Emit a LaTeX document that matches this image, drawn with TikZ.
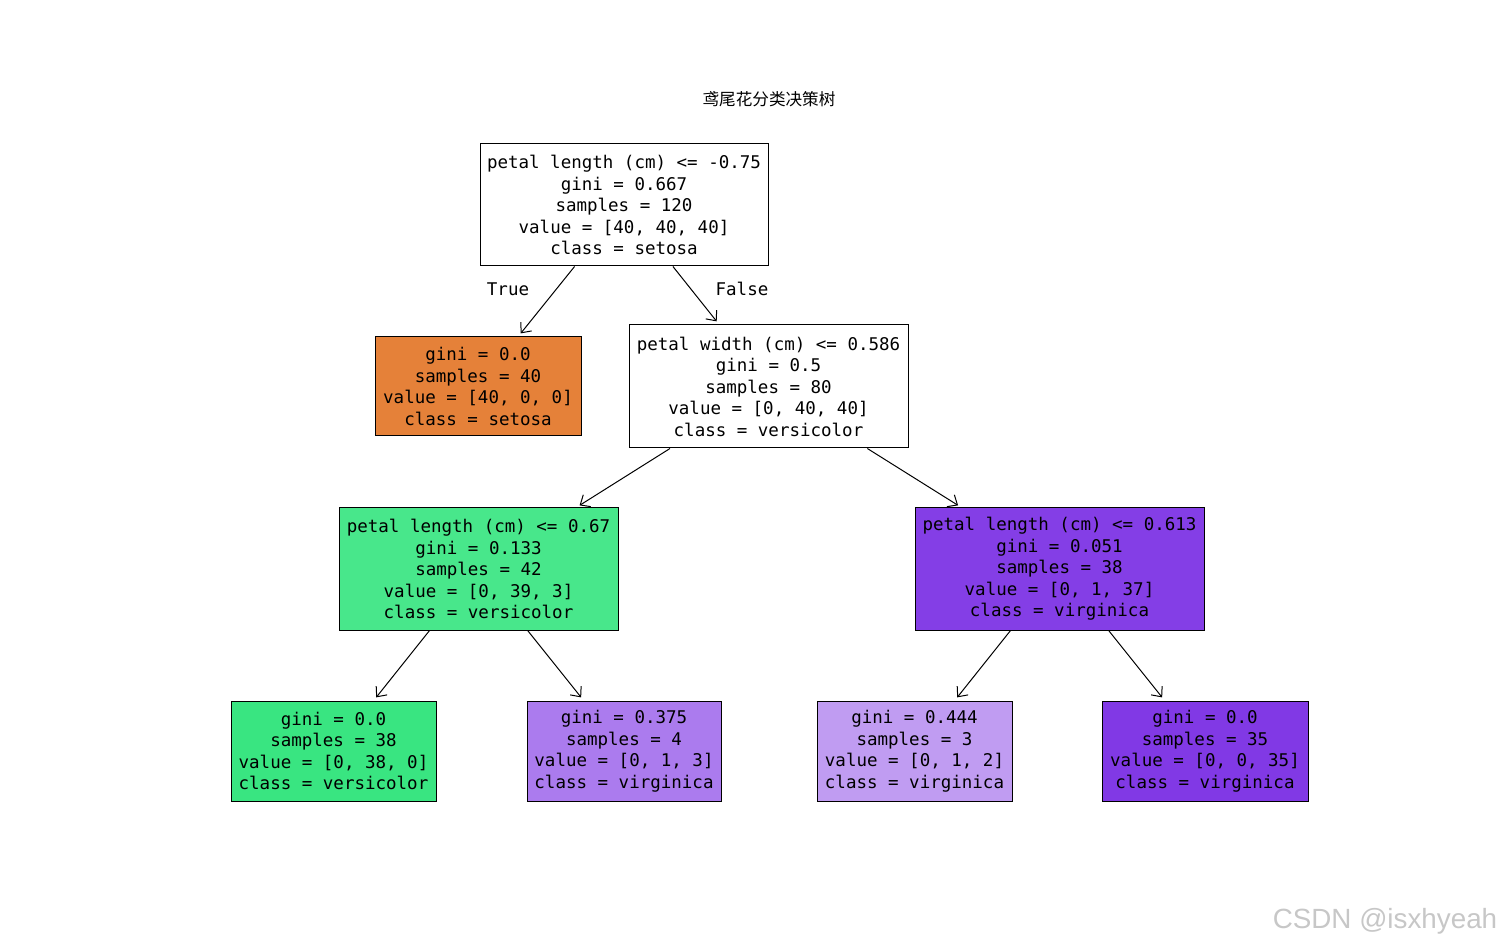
\documentclass[tikz,border=0pt]{standalone}
\usepackage{fontspec}
\usetikzlibrary{arrows.meta}
\setmainfont{DejaVu Sans Mono}
\newfontfamily\cjkfont{Noto Sans CJK SC}
\newfontfamily\wmfont{Liberation Sans}
\definecolor{cSetosa}{HTML}{E58139}
\definecolor{cVersi}{HTML}{39E581}
\definecolor{cVersiB}{HTML}{48E78B}
\definecolor{cVirg}{HTML}{8139E5}
\definecolor{cVirgB}{HTML}{843EE6}
\definecolor{cVirgC}{HTML}{AB7BEE}
\definecolor{cVirgD}{HTML}{C09CF2}
\begin{document}
\begin{tikzpicture}[x=0.5pt,y=-0.5pt,
  treenode/.style={draw=black,line width=0.5pt,align=center,inner sep=0pt,
    font=\fontsize{8.75}{10.75}\selectfont},
  edge/.style={line width=0.5pt,-{Straight Barb[length=4pt,width=7pt]},shorten >=2pt},
  elabel/.style={font=\fontsize{8.75}{10.75}\selectfont}]
\useasboundingbox (0,0) rectangle (1500,946);
\node[font=\cjkfont\fontsize{8.3}{10}\selectfont] (title) at (769,99) {鸢尾花分类决策树};

\node[treenode,fill=white,minimum width=144pt,minimum height=61pt] (root) at (624,205)
  {petal length (cm) <= -0.75\\gini = 0.667\\samples = 120\\value = [40, 40, 40]\\class = setosa};
\node[treenode,fill=cSetosa,minimum width=103pt,minimum height=49.5pt] (n1) at (478,386.5)
  {gini = 0.0\\samples = 40\\value = [40, 0, 0]\\class = setosa};
\node[treenode,fill=white,minimum width=139.5pt,minimum height=61.5pt] (n2) at (768.5,386.5)
  {petal width (cm) <= 0.586\\gini = 0.5\\samples = 80\\value = [0, 40, 40]\\class = versicolor};
\node[treenode,fill=cVersiB,minimum width=139.5pt,minimum height=61pt] (n3) at (478.5,569)
  {petal length (cm) <= 0.67\\gini = 0.133\\samples = 42\\value = [0, 39, 3]\\class = versicolor};
\node[treenode,fill=cVirgB,minimum width=144.5pt,minimum height=61pt] (n4) at (1059.5,569)
  {petal length (cm) <= 0.613\\gini = 0.051\\samples = 38\\value = [0, 1, 37]\\class = virginica};
\node[treenode,fill=cVersi,minimum width=102.5pt,minimum height=50pt] (l1) at (333.5,751)
  {gini = 0.0\\samples = 38\\value = [0, 38, 0]\\class = versicolor};
\node[treenode,fill=cVirgC,minimum width=97pt,minimum height=50pt] (l2) at (624,751)
  {gini = 0.375\\samples = 4\\value = [0, 1, 3]\\class = virginica};
\node[treenode,fill=cVirgD,minimum width=97.5pt,minimum height=50pt] (l3) at (914.5,751)
  {gini = 0.444\\samples = 3\\value = [0, 1, 2]\\class = virginica};
\node[treenode,fill=cVirg,minimum width=103pt,minimum height=50pt] (l4) at (1205,751)
  {gini = 0.0\\samples = 35\\value = [0, 0, 35]\\class = virginica};

\draw[edge] (root) -- (n1);
\draw[edge] (root) -- (n2);
\draw[edge] (n2) -- (n3);
\draw[edge] (n2) -- (n4);
\draw[edge] (n3) -- (l1);
\draw[edge] (n3) -- (l2);
\draw[edge] (n4) -- (l3);
\draw[edge] (n4) -- (l4);

\node[elabel] (ltrue) at (508,289) {True};
\node[elabel] (lfalse) at (742,289) {False};

\node[font=\wmfont\fontsize{13.9}{16}\selectfont,text=black!22] (wm) at (1385,921) {CSDN @isxhyeah};
\end{tikzpicture}
\end{document}
